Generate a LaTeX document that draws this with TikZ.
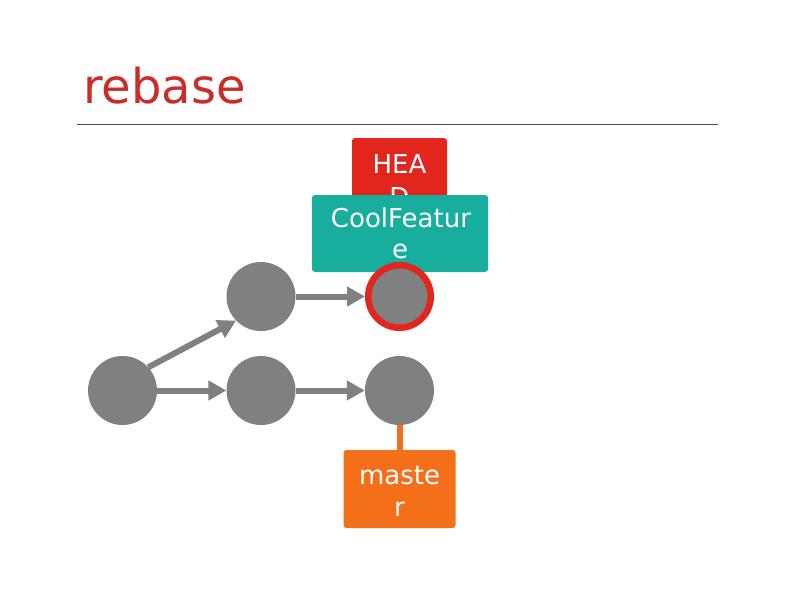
\documentclass[tikz,border=0pt]{standalone}
\usepackage{fontspec}
\setmainfont{DejaVu Sans}
\usetikzlibrary{arrows.meta}
\definecolor{titlered}{HTML}{C92D29}
\definecolor{headred}{HTML}{E2261D}
\definecolor{teal}{HTML}{17AE9E}
\definecolor{orng}{HTML}{F36F1A}
\definecolor{cgray}{HTML}{808080}
\definecolor{rulecol}{HTML}{5A4646}
\tikzset{
  commit/.style={circle, fill=cgray, minimum size=69pt, inner sep=0pt, draw=none},
  headcommit/.style={circle, fill=cgray, minimum size=62.5pt, inner sep=0pt, draw=headred, line width=6.5pt},
  refbox/.style={rectangle, rounded corners=3pt, inner sep=0pt, draw=none},
  lbl/.style={text=white, font=\fontsize{26}{32}\selectfont, anchor=base, inner sep=0pt},
  parent/.style={draw=cgray, line width=6pt, -{Triangle[length=18pt,width=19pt]}},
}
\begin{document}
\begin{tikzpicture}[x=1pt,y=-1pt]
\useasboundingbox[fill=white] (0,0) rectangle (800,600);
\node[anchor=base west, inner sep=0pt, text=titlered, font=\fontsize{48}{56}\selectfont] (title) at (83,103) {rebase};
\coordinate (rl) at (77,124);
\coordinate (rr) at (718,124);
\draw[rulecol, line width=1pt] (rl) -- (rr);
% HEAD
\node[refbox, fill=headred, minimum width=95pt, minimum height=77pt] (headbox) at (399.5,176.5) {};
\node[lbl] (head1) at (399.5,173) {HEA};
\node[lbl] (head2) at (399.5,206) {D};
% CoolFeature
\node[refbox, fill=teal, minimum width=176pt, minimum height=77pt] (cfbox) at (400,233.5) {};
\node[lbl] (cf1) at (401,227) {CoolFeatur};
\node[lbl] (cf2) at (400,258) {e};
% master
\node[refbox, fill=orng, minimum width=112pt, minimum height=78pt] (mbox) at (399.5,489) {};
\node[lbl] (m1) at (399.5,484) {maste};
\node[lbl] (m2) at (399.5,516) {r};
% commits
\node[commit] (c1) at (122.5,390.5) {};
\node[commit] (c2) at (261,296.5) {};
\node[commit] (c3) at (261,390.5) {};
\node[headcommit] (c4) at (399.5,296.5) {};
\node[commit] (c5) at (399.5,390.5) {};
% arrows
\draw[parent] (c1.42) -- (c2.224);
\draw[parent] (c1.east) -- (c3.west);
\draw[parent] (c2.east) -- (c4.west);
\draw[parent] (c3.east) -- (c5.west);
\draw[orng, line width=6pt] (c5.south) -- (mbox.north);
\end{tikzpicture}
\end{document}
